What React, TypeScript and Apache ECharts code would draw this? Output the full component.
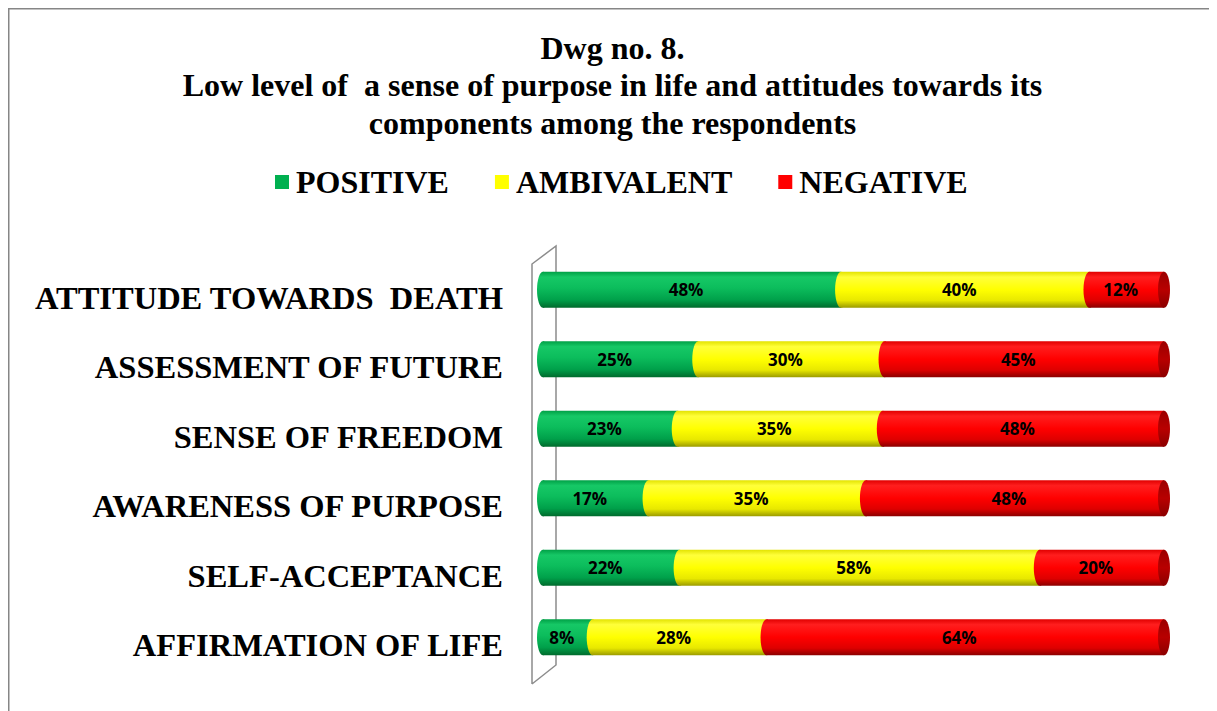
import React, { useEffect, useRef } from "react";
import * as echarts from "echarts";

const titleLines = [
  "Dwg no. 8.",
  "Low level of  a sense of purpose in life and attitudes towards its",
  "components among the respondents",
];
const categories = [
  "ATTITUDE TOWARDS  DEATH",
  "ASSESSMENT OF FUTURE",
  "SENSE OF FREEDOM",
  "AWARENESS OF PURPOSE",
  "SELF-ACCEPTANCE",
  "AFFIRMATION OF LIFE",
];
const seriesNames = ["POSITIVE", "AMBIVALENT", "NEGATIVE"];
const positive = [48, 25, 23, 17, 22, 8];
const ambivalent = [40, 30, 35, 35, 58, 28];
const negative = [12, 45, 48, 48, 20, 64];

const baseColors = ["#00b050", "#ffff00", "#ff0000"];
const gradStops = [
  [
    [0, "#00a046"],
    [0.15, "#16c866"],
    [0.45, "#0cbd5c"],
    [0.78, "#00a04a"],
    [1, "#006a2c"],
  ],
  [
    [0, "#e2e200"],
    [0.15, "#ffff3a"],
    [0.5, "#ffff00"],
    [0.8, "#e8e800"],
    [1, "#9a9a00"],
  ],
  [
    [0, "#e00000"],
    [0.15, "#ff1e1e"],
    [0.5, "#ff0000"],
    [0.8, "#de0000"],
    [1, "#8a0000"],
  ],
];

function mkGrad(stops: any[]) {
  return new echarts.graphic.LinearGradient(
    0,
    0,
    0,
    1,
    stops.map((s) => ({ offset: s[0], color: s[1] }))
  );
}

export default function App() {
  const ref = useRef<HTMLDivElement>(null);
  useEffect(() => {
    document.body.style.overflow = "hidden";
    const chart = echarts.init(ref.current!, null, { renderer: "svg" });
    const all = [positive, ambivalent, negative];
    const seriesData = all.map((arr, k) =>
      arr.map((v, i) => {
        const total = positive[i] + ambivalent[i] + negative[i];
        let before = 0;
        for (let j = 0; j < k; j++) before += all[j][i];
        const start = (before / total) * 100;
        const end = ((before + v) / total) * 100;
        return [i, start, end, v];
      })
    );

    const series = seriesData.map((data, k) => ({
      type: "custom",
      name: seriesNames[k],
      z: 5,
      itemStyle: { color: baseColors[k] },
      encode: { x: [1, 2], y: 0 },
      data,
      renderItem: (params: any, api: any) => {
        const cat = api.value(0);
        const s = api.value(1);
        const e = api.value(2);
        const raw = api.value(3);
        const p0 = api.coord([s, cat]);
        const p1 = api.coord([e, cat]);
        const h = api.size([0, 1])[1] * 0.52;
        const rx = 6;
        const children: any[] = [
          {
            type: "rect",
            shape: { x: p0[0], y: p0[1] - h / 2, width: p1[0] - p0[0], height: h },
            style: { fill: mkGrad(gradStops[k]) },
          },
          {
            type: "ellipse",
            shape: { cx: p0[0], cy: p0[1], rx, ry: h / 2 },
            style: { fill: mkGrad(gradStops[k]) },
          },
        ];
        if (k === seriesData.length - 1) {
          children.push({
            type: "ellipse",
            shape: { cx: p1[0], cy: p0[1], rx, ry: h / 2 },
            style: {
              fill: mkGrad([
                [0, "#9a0000"],
                [0.5, "#b80000"],
                [1, "#8a0000"],
              ]),
            },
          });
        }
        children.push({
          type: "text",
          style: {
            text: raw + "%",
            x: (p0[0] + p1[0]) / 2 - 6,
            y: p0[1],
            align: "center",
            verticalAlign: "middle",
            fill: "#000",
            fontSize: 17,
            fontWeight: "bold",
            fontFamily: "Open Sans",
          },
        });
        return { type: "group", children };
      },
    }));

    chart.setOption({
      animation: false,
      backgroundColor: "#fff",
      title: {
        text: titleLines.join("\n"),
        left: "center",
        top: 16,
        textStyle: {
          fontFamily: "Liberation Serif",
          fontWeight: "bold",
          fontSize: 32,
          lineHeight: 37.5,
          color: "#000",
        },
      },
      legend: {
        data: seriesNames,
        left: 262,
        top: 153,
        icon: "rect",
        itemWidth: 14,
        itemHeight: 14,
        itemGap: 46,
        textStyle: {
          fontFamily: "Liberation Serif",
          fontWeight: "bold",
          fontSize: 32,
          color: "#000",
          padding: [0, 0, 0, 2],
        },
      },
      grid: { left: 535, right: 53, top: 247, bottom: 39, outerBoundsMode: "none" },
      xAxis: { type: "value", min: 0, max: 100, show: false },
      yAxis: {
        type: "category",
        data: categories,
        inverse: true,
        axisLine: { show: false },
        axisTick: { show: false },
        splitLine: { show: false },
        axisLabel: {
          margin: 40,
          fontFamily: "Liberation Serif",
          fontWeight: "bold",
          fontSize: 32.5,
          color: "#000",
          verticalAlign: "top",
          lineHeight: 16,
        },
      },
      graphic: [
        {
          type: "polyline",
          z: 0,
          shape: {
            points: [
              [524, 676],
              [524, 256],
              [548, 238],
              [548, 657],
              [524, 676],
            ],
          },
          style: { stroke: "#8c8c8c", lineWidth: 1.5, fill: "none" },
        },
        {
          type: "polyline",
          z: 0,
          shape: { points: [[0.75, 703], [0.75, 0.75], [1208, 0.75]] },
          style: { stroke: "#868686", lineWidth: 1.5, fill: "none" },
        },
        {
          type: "line",
          z: 0,
          shape: { x1: 1208, y1: 0, x2: 1208, y2: 703 },
          style: { stroke: "#e0e0e0", lineWidth: 1 },
        },
      ],
      series,
    });
    return () => chart.dispose();
  }, []);
  return <div ref={ref} style={{ width: 1209, height: 703 }} />;
}
